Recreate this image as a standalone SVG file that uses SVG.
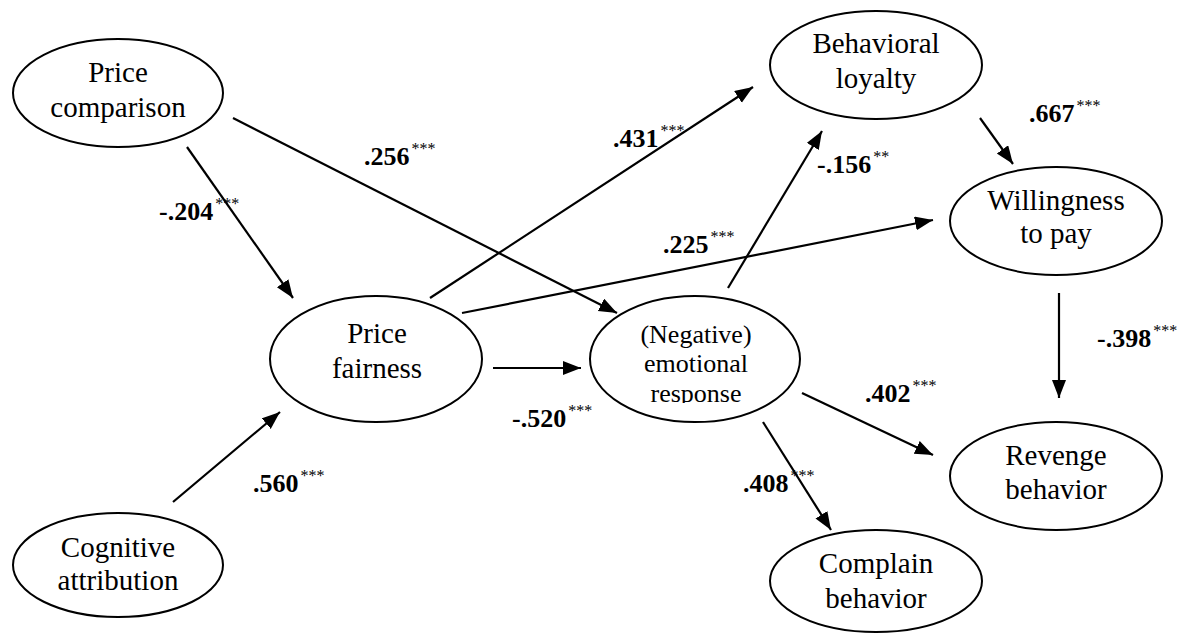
<svg xmlns="http://www.w3.org/2000/svg" width="1178" height="634" viewBox="0 0 1178 634" font-family="Liberation Serif, Tinos, Times New Roman, Times, DejaVu Serif, Noto Serif, FreeSerif, serif">
  <defs>
    <marker id="head" markerUnits="userSpaceOnUse" markerWidth="20" markerHeight="16" refX="18" refY="7" orient="auto">
      <path d="M0,0 L18,7 L0,14 z" fill="#000"/>
    </marker>
    <clipPath id="clipNeg">
      <rect x="580" y="290" width="240" height="113"/>
    </clipPath>
  </defs>
  <style>
    ellipse { fill: #fff; stroke: #000; stroke-width: 2; }
    text { fill: #000; }
    .lbl { font-size: 29px; text-anchor: middle; }
    .lbl-s { font-size: 26px; text-anchor: middle; }
    .coef { font-size: 26px; font-weight: bold; }
    .sig { font-size: 16px; font-weight: normal; }
    #connectors line { stroke: #000; stroke-width: 2.2; marker-end: url(#head); }
  </style>
  <rect width="1178" height="634" fill="#fff"/>

  <g id="connectors">
    <line x1="187" y1="147" x2="293" y2="298"/>
    <line x1="233" y1="118" x2="617" y2="313"/>
    <line x1="430" y1="298" x2="753" y2="87"/>
    <line x1="462" y1="313" x2="933" y2="220"/>
    <line x1="493" y1="368" x2="581" y2="368"/>
    <line x1="728" y1="288" x2="822" y2="131"/>
    <line x1="980" y1="118" x2="1013" y2="164"/>
    <line x1="1059" y1="293" x2="1059" y2="398"/>
    <line x1="802" y1="393" x2="933" y2="455"/>
    <line x1="763" y1="422" x2="831" y2="530"/>
    <line x1="173" y1="502" x2="280" y2="412"/>
  </g>

  <g id="price-comparison">
    <ellipse cx="118" cy="93" rx="105" ry="54"/>
    <text class="lbl" x="118" y="82">Price</text>
    <text class="lbl" x="118" y="117">comparison</text>
  </g>

  <g id="price-fairness">
    <ellipse cx="376" cy="359" rx="106" ry="63"/>
    <text class="lbl" x="377" y="343">Price</text>
    <text class="lbl" x="377" y="378">fairness</text>
  </g>

  <g id="cognitive-attribution">
    <ellipse cx="118" cy="565" rx="105" ry="52"/>
    <text class="lbl" x="118" y="557">Cognitive</text>
    <text class="lbl" x="118" y="590">attribution</text>
  </g>

  <g id="emotional-response">
    <ellipse cx="695" cy="359" rx="105" ry="63"/>
    <g clip-path="url(#clipNeg)">
      <text class="lbl-s" x="696" y="343">(Negative)</text>
      <text class="lbl-s" x="696" y="372">emotional</text>
      <text class="lbl-s" x="696" y="402">response</text>
    </g>
  </g>

  <g id="behavioral-loyalty">
    <ellipse cx="876" cy="65" rx="106" ry="54"/>
    <text class="lbl" x="876" y="53">Behavioral</text>
    <text class="lbl" x="876" y="88">loyalty</text>
  </g>

  <g id="willingness-to-pay">
    <ellipse cx="1056" cy="221" rx="106" ry="54"/>
    <text class="lbl" x="1056" y="210">Willingness</text>
    <text class="lbl" x="1056" y="243">to pay</text>
  </g>

  <g id="revenge-behavior">
    <ellipse cx="1056" cy="476" rx="106" ry="54"/>
    <text class="lbl" x="1056" y="465">Revenge</text>
    <text class="lbl" x="1056" y="499">behavior</text>
  </g>

  <g id="complain-behavior">
    <ellipse cx="876" cy="581" rx="106" ry="51"/>
    <text class="lbl" x="876" y="573">Complain</text>
    <text class="lbl" x="876" y="608">behavior</text>
  </g>

  <g id="coefficients">
    <text class="coef" x="159" y="220">-.204<tspan class="sig" dx="2" dy="-11">***</tspan></text>
    <text class="coef" x="364" y="165">.256<tspan class="sig" dx="2" dy="-11">***</tspan></text>
    <text class="coef" x="613" y="147">.431<tspan class="sig" dx="2" dy="-11">***</tspan></text>
    <text class="coef" x="663" y="253">.225<tspan class="sig" dx="2" dy="-11">***</tspan></text>
    <text class="coef" x="817" y="173">-.156<tspan class="sig" dx="2" dy="-11">**</tspan></text>
    <text class="coef" x="1029" y="122">.667<tspan class="sig" dx="2" dy="-11">***</tspan></text>
    <text class="coef" x="1097" y="347">-.398<tspan class="sig" dx="2" dy="-11">***</tspan></text>
    <text class="coef" x="865" y="402">.402<tspan class="sig" dx="2" dy="-11">***</tspan></text>
    <text class="coef" x="743" y="492">.408<tspan class="sig" dx="2" dy="-11">***</tspan></text>
    <text class="coef" x="512" y="427">-.520<tspan class="sig" dx="2" dy="-11">***</tspan></text>
    <text class="coef" x="253" y="492">.560<tspan class="sig" dx="2" dy="-11">***</tspan></text>
  </g>
</svg>
